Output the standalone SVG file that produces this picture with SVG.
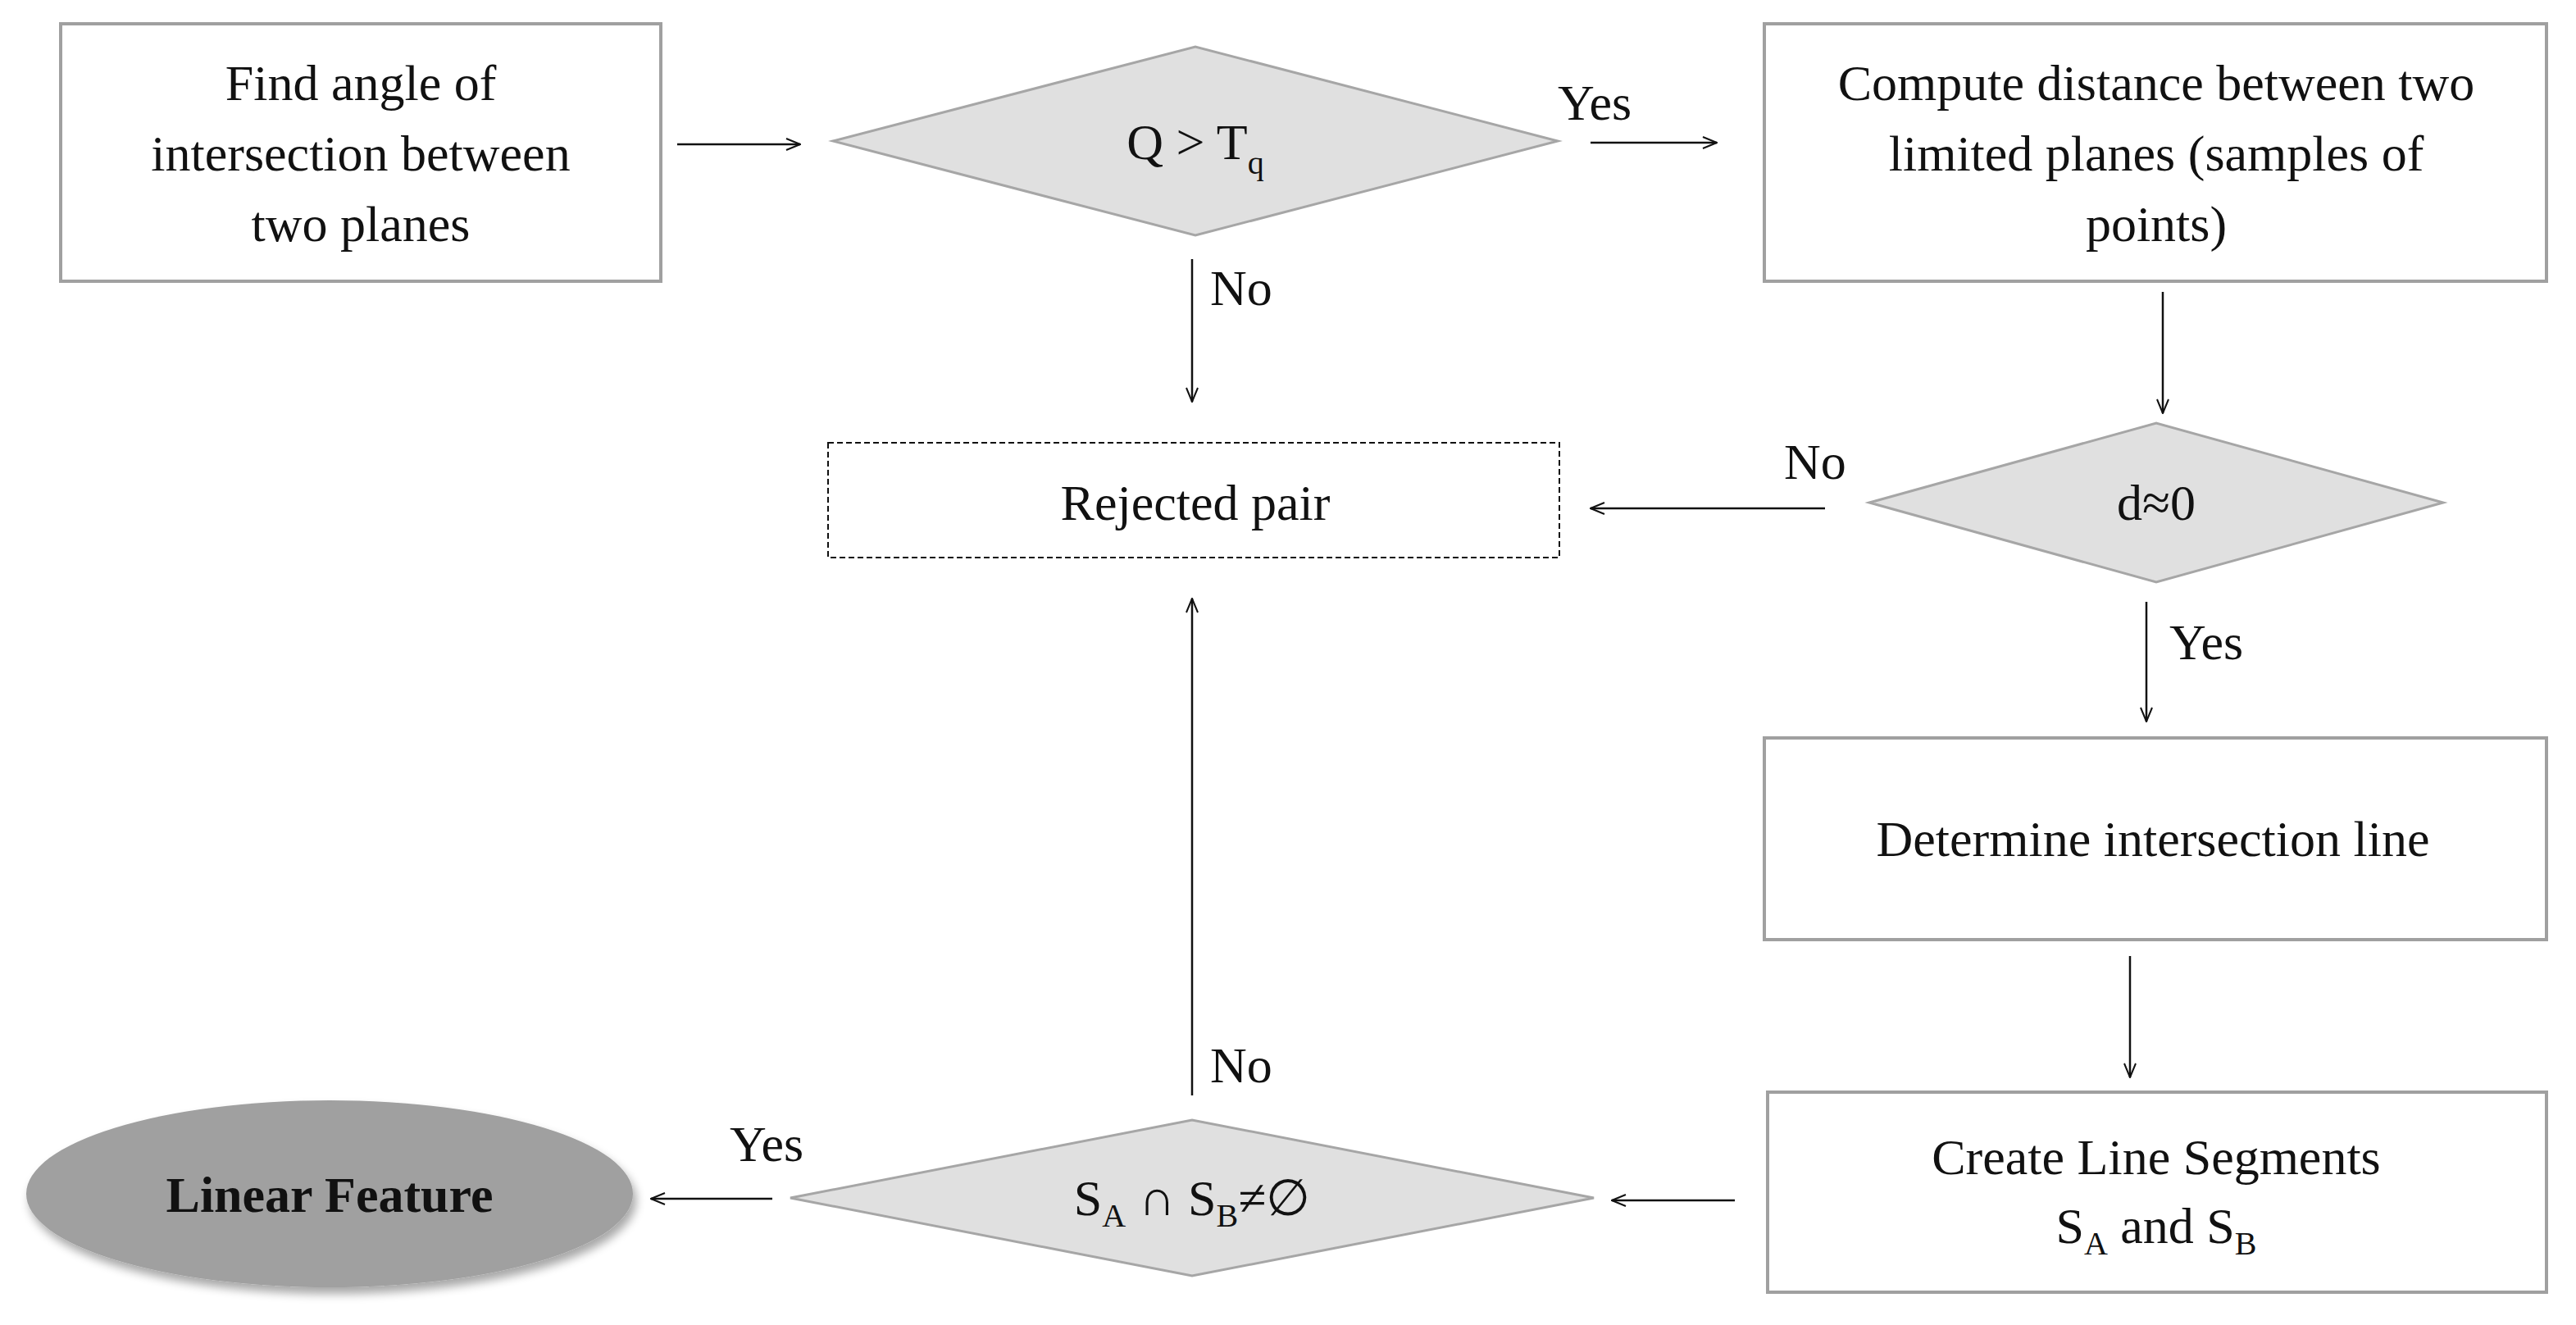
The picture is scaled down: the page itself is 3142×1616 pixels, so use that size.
<svg xmlns="http://www.w3.org/2000/svg" width="3142" height="1616" viewBox="0 0 3142 1616">
<style>
text{font-family:"Liberation Serif","Times New Roman",serif;font-size:62px;fill:#111;text-anchor:middle}
.box{fill:#fff;stroke:#a0a0a0;stroke-width:4}
.dia{fill:#e0e0e0;stroke:#a6a6a6;stroke-width:3}
.c{stroke:#111;stroke-width:2.5;fill:none;marker-end:url(#ah)}
.lbl{text-anchor:start}
.sub{font-size:40px}
</style>
<defs>
<marker id="ah" viewBox="0 0 20 20" refX="19" refY="10" markerWidth="20" markerHeight="20" markerUnits="userSpaceOnUse" orient="auto">
<path d="M2,3 L19,10 L2,17" fill="none" stroke="#111" stroke-width="2"/>
</marker>
<filter id="sh" x="-10%" y="-10%" width="125%" height="130%"><feGaussianBlur in="SourceAlpha" stdDeviation="6"/><feOffset dx="4" dy="8"/><feComponentTransfer><feFuncA type="linear" slope="0.35"/></feComponentTransfer><feMerge><feMergeNode/><feMergeNode in="SourceGraphic"/></feMerge></filter>
</defs>
<g id="n1"><rect class="box" x="74" y="29" width="732" height="314"/>
<text x="440" y="122">Find angle of</text><text x="440" y="208">intersection between</text><text x="440" y="294">two planes</text></g>
<g id="n2"><polygon class="dia" points="1016,172 1458,57 1900,172 1458,287"/>
<text x="1458" y="194">Q &gt; T<tspan class="sub" dy="18">q</tspan></text></g>
<g id="n3"><rect class="box" x="2152" y="29" width="954" height="314"/>
<text x="2630" y="122">Compute distance between two</text><text x="2630" y="208">limited planes (samples of</text><text x="2630" y="294">points)</text></g>
<g id="n4"><rect x="1010" y="540" width="892" height="140" fill="#fff" stroke="#111" stroke-width="2" stroke-dasharray="7,4"/>
<text x="1458" y="634">Rejected pair</text></g>
<g id="n5"><polygon class="dia" points="2280,613 2630,516 2980,613 2630,710"/>
<text x="2630" y="634">d≈0</text></g>
<g id="n6"><rect class="box" x="2152" y="900" width="954" height="246"/>
<text x="2626" y="1044">Determine intersection line</text></g>
<g id="n7"><rect class="box" x="2156" y="1332" width="950" height="244"/>
<text x="2630" y="1432">Create Line Segments</text><text x="2630" y="1516">S<tspan class="sub" dy="14">A</tspan><tspan dy="-14"> and S</tspan><tspan class="sub" dy="14">B</tspan></text></g>
<g id="n8"><polygon class="dia" points="964,1461 1454,1366 1944,1461 1454,1556"/>
<text x="1454" y="1482">S<tspan class="sub" dy="14">A</tspan><tspan dy="-14"> ∩ S</tspan><tspan class="sub" dy="14">B</tspan><tspan dy="-14">≠∅</tspan></text></g>
<g id="n9"><ellipse cx="402" cy="1456" rx="370" ry="114" fill="#a0a0a0" filter="url(#sh)"/>
<text x="402" y="1478" font-weight="bold">Linear Feature</text></g>
<g id="connectors">
<line class="c" x1="826" y1="176" x2="976" y2="176" stroke-width="3.5"/>
<line class="c" x1="1940" y1="174" x2="2094" y2="174" stroke-width="3.5"/>
<line class="c" x1="1454" y1="316" x2="1454" y2="490"/>
<line class="c" x1="2638" y1="356" x2="2638" y2="504"/>
<line class="c" x1="2226" y1="620" x2="1940" y2="620" stroke-width="3.5"/>
<line class="c" x1="2618" y1="734" x2="2618" y2="880"/>
<line class="c" x1="2598" y1="1166" x2="2598" y2="1314"/>
<line class="c" x1="2116" y1="1464" x2="1966" y2="1464" stroke-width="3.5"/>
<line class="c" x1="1454" y1="1336" x2="1454" y2="730"/>
<line class="c" x1="942" y1="1462" x2="794" y2="1462" stroke-width="3.5"/>
<text class="lbl" x="1900" y="146">Yes</text>
<text class="lbl" x="1476" y="372">No</text>
<text class="lbl" x="2176" y="584">No</text>
<text class="lbl" x="2646" y="804">Yes</text>
<text class="lbl" x="1476" y="1320">No</text>
<text class="lbl" x="890" y="1416">Yes</text>
</g>
</svg>
